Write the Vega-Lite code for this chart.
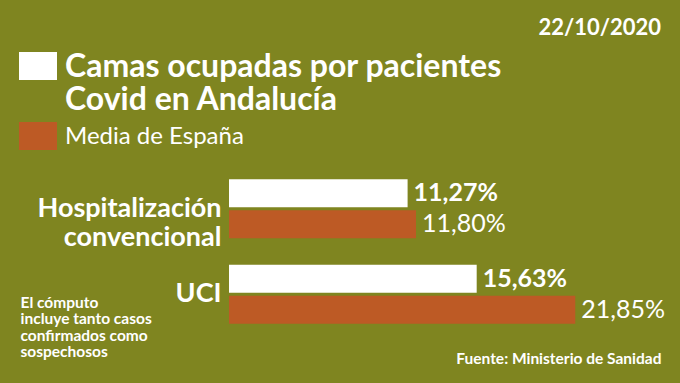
{
  "$schema": "https://vega.github.io/schema/vega-lite/v6.json",
  "autosize": {"type": "none"},
  "padding": {"left": 229, "top": 166, "right": 19, "bottom": 46},
  "width": 432,
  "height": 171,
  "background": "#7f8520",
  "config": {
    "view": {"stroke": null},
    "font": "Lato",
    "locale": {"number": {"decimal": ",", "thousands": ".", "grouping": [3], "currency": ["", "€"]}}
  },
  "title": {
    "text": "22/10/2020",
    "anchor": "end",
    "frame": "group",
    "orient": "top",
    "font": "Lato",
    "fontSize": 22,
    "fontWeight": "bold",
    "color": "white",
    "baseline": "alphabetic",
    "offset": -10
  },
  "data": {
    "values": [
      {"cat": "Hospitalización convencional", "serie": "Andalucía", "v": 0.1127},
      {"cat": "Hospitalización convencional", "serie": "España", "v": 0.118},
      {"cat": "UCI", "serie": "Andalucía", "v": 0.1563},
      {"cat": "UCI", "serie": "España", "v": 0.2185}
    ]
  },
  "encoding": {
    "y": {
      "field": "cat",
      "type": "nominal",
      "sort": null,
      "scale": {"paddingInner": 0.31, "paddingOuter": 0.155},
      "axis": {
        "domain": false,
        "ticks": false,
        "grid": false,
        "labelExpr": "split(datum.value, ' ')",
        "labelFont": "Lato",
        "labelFontSize": 27,
        "labelFontWeight": "bold",
        "labelColor": "white",
        "labelLineHeight": 29,
        "labelLimit": 400,
        "labelPadding": 8,
        "labelBaseline": "middle",
        "title": ["El cómputo", "incluye tanto casos", "confirmados como", "sospechosos"],
        "titleAngle": 0,
        "titleAlign": "left",
        "titleBaseline": "top",
        "titleX": -209,
        "titleY": 129,
        "titleFont": "Lato",
        "titleFontSize": 15.5,
        "titleFontWeight": "bold",
        "titleColor": "white",
        "titleLineHeight": 16.5
      }
    },
    "yOffset": {
      "field": "serie",
      "type": "nominal",
      "sort": ["Andalucía", "España"],
      "scale": {"paddingInner": 0.1}
    },
    "x": {
      "field": "v",
      "type": "quantitative",
      "scale": {"domain": [0, 0.2726], "nice": false, "zero": true},
      "axis": {
        "domain": false,
        "ticks": false,
        "labels": false,
        "grid": false,
        "title": "Fuente: Ministerio de Sanidad",
        "titleX": 432,
        "titleY": 21,
        "titleAlign": "right",
        "titleBaseline": "middle",
        "titleFont": "Lato",
        "titleFontSize": 15.5,
        "titleFontWeight": "bold",
        "titleColor": "white"
      }
    }
  },
  "layer": [
    {
      "mark": {"type": "bar", "strokeWidth": 0},
      "encoding": {
        "color": {
          "field": "serie",
          "type": "nominal",
          "scale": {"domain": ["Andalucía", "España"], "range": ["#ffffff", "#bd5a25"]},
          "legend": {
            "orient": "none",
            "legendX": -210,
            "legendY": -119,
            "title": null,
            "symbolType": "M-1,-0.737H1V0.737H-1Z",
            "symbolSize": 1444,
            "symbolStrokeWidth": 0,
            "symbolOpacity": 1,
            "labelExpr": "datum.value == 'Andalucía' ? ['Camas ocupadas por pacientes', 'Covid en Andalucía'] : 'Media de España'",
            "labelFont": "Lato",
            "labelFontSize": 32,
            "labelColor": "white",
            "labelLimit": 600,
            "labelOffset": 8,
            "labelBaseline": "alphabetic",
            "rowPadding": 1,
            "padding": 0,
            "encode": {
              "labels": {
                "update": {
                  "fontWeight": {"signal": "datum.value == 'Andalucía' ? 'bold' : 'normal'"},
                  "fontSize": {"signal": "datum.value == 'Andalucía' ? 32 : 24"},
                  "lineHeight": {"value": 33},
                  "dy": {"signal": "datum.value == 'Andalucía' ? 11 : 8"}
                }
              }
            }
          }
        }
      }
    },
    {
      "transform": [{"filter": "datum.serie == 'Andalucía'"}],
      "mark": {"type": "text", "align": "left", "baseline": "middle", "dx": 6, "font": "Lato", "fontSize": 25, "fontWeight": "bold", "color": "white"},
      "encoding": {"text": {"field": "v", "type": "quantitative", "format": ".2%"}}
    },
    {
      "transform": [{"filter": "datum.serie == 'España'"}],
      "mark": {"type": "text", "align": "left", "baseline": "middle", "dx": 6, "font": "Lato", "fontSize": 25, "fontWeight": "normal", "color": "white"},
      "encoding": {"text": {"field": "v", "type": "quantitative", "format": ".2%"}}
    }
  ]
}
